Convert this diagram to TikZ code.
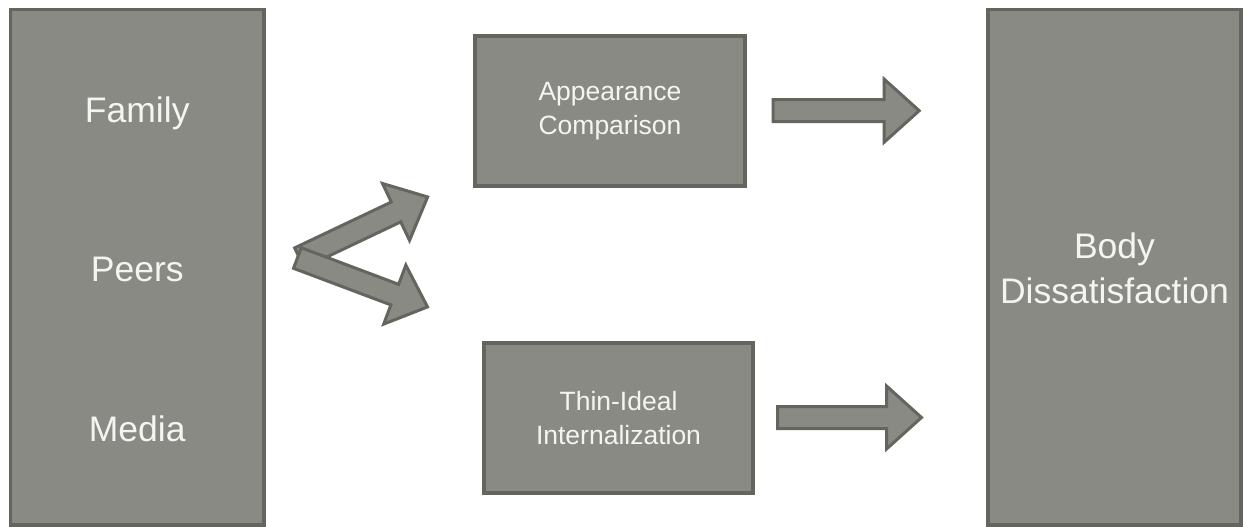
\documentclass[tikz,border=0pt]{standalone}
\usepackage{fontspec}
\setmainfont{Liberation Sans}
\usetikzlibrary{shapes.arrows}

\definecolor{boxgray}{HTML}{8A8A84}
\definecolor{edgegray}{HTML}{64655F}
\definecolor{txtwhite}{HTML}{F4F4F2}

\begin{document}
\begin{tikzpicture}[x=1pt,y=-1pt,
  box/.style={draw=edgegray, fill=boxgray, line width=3.5pt, inner sep=0pt,
    text=txtwhite, align=center},
  bigtext/.style={font=\fontsize{35.5}{45}\selectfont, text=txtwhite, anchor=base},
  smalltext/.style={font=\fontsize{26.5}{34.5}\selectfont},
  blockarrow/.style={single arrow, draw=edgegray, fill=boxgray, line width=3pt,
    inner xsep=0pt, inner ysep=9.5pt, single arrow head extend=20.5pt,
    single arrow tip angle=84, anchor=tail}]
\useasboundingbox (0,0) rectangle (1248,527);

% sources
\node[box, minimum width=253.5, minimum height=515.5] (src) at (137.25,267.25) {};
\node[bigtext] (family) at (137.25,122) {Family};
\node[bigtext] (peers) at (137.25,281) {Peers};
\node[bigtext] (media) at (137.25,441) {Media};

% mediators
\node[box, smalltext, minimum width=270, minimum height=150] (cmp) at (610,111)
  {Appearance\\Comparison};
\node[box, smalltext, minimum width=269, minimum height=150] (thin) at (618.5,418)
  {Thin-Ideal\\Internalization};

% outcome
\node[box, minimum width=253, minimum height=515.5] (body) at (1114.5,267.25) {};
\node[bigtext] (body1) at (1114.5,258) {Body};
\node[bigtext] (body2) at (1114.5,303) {Dissatisfaction};

% block arrows
\node[blockarrow, minimum height=142, rotate=25.4] (up) at (298,258.5) {};
\node[blockarrow, minimum height=139, rotate=-20.6] (down) at (296,257.5) {};
\node[blockarrow, minimum height=146] (toptr) at (771.7,110.7) {};
\node[blockarrow, minimum height=144] (lowtr) at (776,417.5) {};
\end{tikzpicture}
\end{document}
